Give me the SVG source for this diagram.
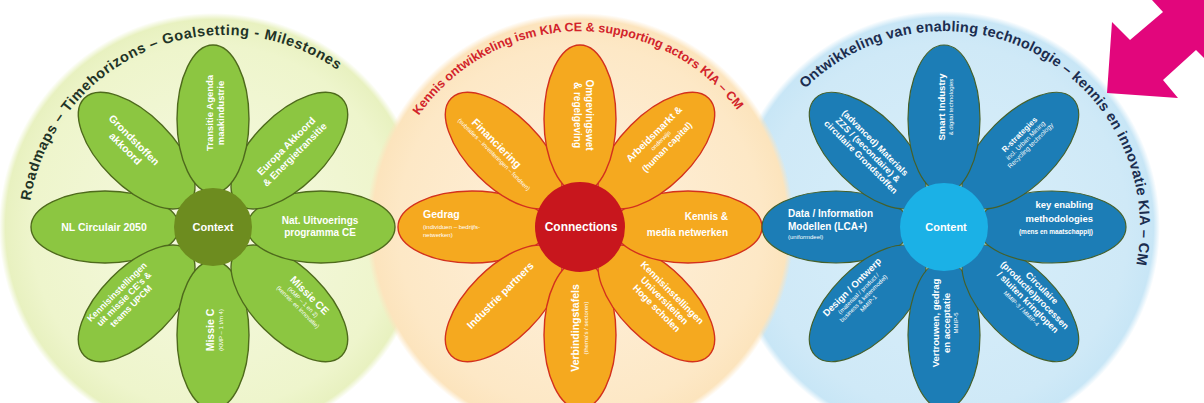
<svg xmlns="http://www.w3.org/2000/svg" xmlns:xlink="http://www.w3.org/1999/xlink" width="1204" height="403" viewBox="0 0 1204 403">
<style>
.t{font-family:"Liberation Sans",Arial,sans-serif;font-weight:bold;}
.pt{font-family:"Liberation Sans",Arial,sans-serif;font-weight:bold;fill:#ffffff;text-anchor:middle;}
.s{font-size:6px;font-weight:normal;}
.pg{fill:#8cc641;stroke:#4e6a1c;stroke-width:1.4;}
.po{fill:#f5a91f;stroke:#d3311d;stroke-width:1.4;}
.pb{fill:#1c7db6;stroke:#45602a;stroke-width:1.2;}
.ctr{font-family:"Liberation Sans",Arial,sans-serif;font-weight:bold;fill:#ffffff;text-anchor:middle;}
</style>
<defs>
<ellipse id="petal" cx="108" cy="0" rx="74" ry="36"/>
<radialGradient id="gL" cx="0.5" cy="0.5" r="0.5">
<stop offset="0" stop-color="#f6f9e2"/><stop offset="0.85" stop-color="#eef5cc"/><stop offset="0.97" stop-color="#e8f1c0"/><stop offset="1" stop-color="#e8f1c0" stop-opacity="0"/>
</radialGradient>
<radialGradient id="gM" cx="0.5" cy="0.5" r="0.5">
<stop offset="0" stop-color="#fef1de"/><stop offset="0.85" stop-color="#fde8c6"/><stop offset="0.97" stop-color="#fce4bd"/><stop offset="1" stop-color="#fce4bd" stop-opacity="0"/>
</radialGradient>
<radialGradient id="gR" cx="0.5" cy="0.5" r="0.5">
<stop offset="0" stop-color="#d9effa"/><stop offset="0.85" stop-color="#cfe9f7"/><stop offset="0.97" stop-color="#c8e6f6"/><stop offset="1" stop-color="#c8e6f6" stop-opacity="0"/>
</radialGradient>
<path id="arcL" d="M37.6,292.9 A197,197 0 0 1 398.9,139.5"/>
<path id="arcM" d="M384.5,213.3 A196,196 0 0 1 774.9,206.5"/>
<path id="arcR" d="M774.3,129 A196,196 0 0 1 1120.2,312.9"/>
</defs>
<rect width="1204" height="403" fill="#ffffff"/>
<g id="backgrounds">
<circle cx="213" cy="227" r="214" fill="url(#gL)"/>
<circle cx="944" cy="227" r="216" fill="url(#gR)"/>
<circle cx="580" cy="227" r="214" fill="url(#gM)"/>
</g>
<g id="titles">
<text class="t" font-size="14.5" letter-spacing="0.6" fill="#1f3326"><textPath xlink:href="#arcL" href="#arcL" startOffset="50%" text-anchor="middle">Roadmaps – Timehorizons – Goalsetting - Milestones</textPath></text>
<text class="t" font-size="12.5" fill="#d2232a"><textPath xlink:href="#arcM" href="#arcM" startOffset="50%" text-anchor="middle">Kennis ontwikkeling ism KIA CE &amp; supporting actors KIA – CM</textPath></text>
<text class="t" font-size="14.5" letter-spacing="0.2" fill="#1b2d4f"><textPath xlink:href="#arcR" href="#arcR" startOffset="50%" text-anchor="middle">Ontwikkeling van enabling technologie – kennis en innovatie KIA – CM</textPath></text>
</g>
<g id="connectors"></g>
<g id="flower-context">
<g transform="translate(213,227)">
<use id="pL180" class="pg" href="#petal" xlink:href="#petal" transform="rotate(180)"/>
<use id="pL135" class="pg" href="#petal" xlink:href="#petal" transform="rotate(135)"/>
<use id="pL90" class="pg" href="#petal" xlink:href="#petal" transform="rotate(90)"/>
<use id="pL45" class="pg" href="#petal" xlink:href="#petal" transform="rotate(45)"/>
<use id="pL0" class="pg" href="#petal" xlink:href="#petal" transform="rotate(0)"/>
<use id="pL315" class="pg" href="#petal" xlink:href="#petal" transform="rotate(315)"/>
<use id="pL225" class="pg" href="#petal" xlink:href="#petal" transform="rotate(225)"/>
<use id="pL270" class="pg" href="#petal" xlink:href="#petal" transform="rotate(270)"/>
<circle r="39" fill="#6d8c1f"/>
</g>
<text class="pt" font-size="10.5" transform="translate(130,144) rotate(45)"><tspan x="0" y="-2">Grondstoffen</tspan><tspan x="0" y="10">akkoord</tspan></text>
<text class="pt" font-size="9.5" transform="translate(215,113) rotate(-90)"><tspan x="0" y="-2">Transitie Agenda</tspan><tspan x="0" y="9">maakindustrie</tspan></text>
<text class="pt" font-size="10" transform="translate(290,150) rotate(-45)"><tspan x="0" y="-2">Europa Akkoord</tspan><tspan x="0" y="10">&amp; Energietransitie</tspan></text>
<text class="pt" font-size="10" transform="translate(320,226)"><tspan x="0" y="-2">Nat. Uitvoerings</tspan><tspan x="0" y="10">programma CE</tspan></text>
<text class="pt" font-size="10.5" transform="translate(305,300) rotate(45)"><tspan x="0" y="-3">Missie CE</tspan><tspan class="s" x="0" y="5">(KMP – 1 en 2)</tspan><tspan class="s" x="0" y="12">(kennis- en innovatie)</tspan></text>
<text class="pt" font-size="10.5" transform="translate(214,330) rotate(-90)"><tspan x="0" y="0">Missie C</tspan><tspan class="s" x="0" y="9">(KMP – 1 t/m 4)</tspan></text>
<text class="pt" font-size="9" transform="translate(124,299) rotate(-45)"><tspan x="0" y="-7">Kennisinstellingen</tspan><tspan x="0" y="3">uit missie CE's &amp;</tspan><tspan x="0" y="13">teams UPCM</tspan></text>
<text class="pt" font-size="10.5" transform="translate(104,231)">NL Circulair 2050</text>
<text class="ctr" font-size="11" x="213" y="231">Context</text>
</g>
<g id="flower-connections">
<g transform="translate(580,227)">
<use id="pM180" class="po" href="#petal" xlink:href="#petal" transform="rotate(180)"/>
<use id="pM135" class="po" href="#petal" xlink:href="#petal" transform="rotate(135)"/>
<use id="pM90" class="po" href="#petal" xlink:href="#petal" transform="rotate(90)"/>
<use id="pM45" class="po" href="#petal" xlink:href="#petal" transform="rotate(45)"/>
<use id="pM0" class="po" href="#petal" xlink:href="#petal" transform="rotate(0)"/>
<use id="pM315" class="po" href="#petal" xlink:href="#petal" transform="rotate(315)"/>
<use id="pM225" class="po" href="#petal" xlink:href="#petal" transform="rotate(225)"/>
<use id="pM270" class="po" href="#petal" xlink:href="#petal" transform="rotate(270)"/>
<circle r="45" fill="#c8161d"/>
</g>
<text class="pt" font-size="11" transform="translate(494,146) rotate(45)"><tspan x="0" y="0">Financiering</tspan><tspan class="s" x="6" y="8">(subsidies – investeringen – fondsen)</tspan></text>
<text class="pt" font-size="10" transform="translate(584,115) rotate(90)"><tspan x="0" y="-2">Omgevingswet</tspan><tspan x="0" y="10">&amp; regelgeving</tspan></text>
<text class="pt" font-size="10" transform="translate(660,140) rotate(-45)"><tspan x="0" y="-5">Arbeidsmarkt &amp;</tspan><tspan class="s" x="0" y="3">onderwijs</tspan><tspan x="0" y="13" font-size="9">(human capital)</tspan></text>
<text class="pt" font-size="10" style="text-anchor:end"><tspan x="728" y="220">Kennis &amp;</tspan><tspan x="728" y="236">media netwerken</tspan></text>
<text class="pt" font-size="9.5" transform="translate(665,300) rotate(45)"><tspan x="0" y="-7">Kennisinstellingen</tspan><tspan x="0" y="4">Universiteiten</tspan><tspan x="0" y="15">Hoge scholen</tspan></text>
<text class="pt" font-size="10.5" transform="translate(580,328) rotate(-90)"><tspan x="0" y="-1">Verbindingstafels</tspan><tspan class="s" x="0" y="8">(thema's / sectoren)</tspan></text>
<text class="pt" font-size="10.5" transform="translate(500,295) rotate(-45)"><tspan x="0" y="4">Industrie partners</tspan></text>
<text class="pt" font-size="10.5" style="text-anchor:start"><tspan x="423" y="218">Gedrag</tspan><tspan class="s" x="423" y="229">(individuen – bedrijfs-</tspan><tspan class="s" x="423" y="237">netwerken)</tspan></text>
<text class="ctr" font-size="12" x="581" y="231">Connections</text>
</g>
<g id="flower-content">
<g transform="translate(944,227)">
<use id="pR180" class="pb" href="#petal" xlink:href="#petal" transform="rotate(180)"/>
<use id="pR135" class="pb" href="#petal" xlink:href="#petal" transform="rotate(135)"/>
<use id="pR90" class="pb" href="#petal" xlink:href="#petal" transform="rotate(90)"/>
<use id="pR45" class="pb" href="#petal" xlink:href="#petal" transform="rotate(45)"/>
<use id="pR0" class="pb" href="#petal" xlink:href="#petal" transform="rotate(0)"/>
<use id="pR315" class="pb" href="#petal" xlink:href="#petal" transform="rotate(315)"/>
<use id="pR225" class="pb" href="#petal" xlink:href="#petal" transform="rotate(225)"/>
<use id="pR270" class="pb" href="#petal" xlink:href="#petal" transform="rotate(270)"/>
<circle r="44" fill="#1bb1e6"/>
</g>
<text class="pt" font-size="9" transform="translate(868,150) rotate(45)"><tspan x="0" y="-7">(advanced) Materials</tspan><tspan x="0" y="3">ZZS / (secondaire) &amp;</tspan><tspan x="0" y="13">circulaire Grondstoffen</tspan></text>
<text class="pt" font-size="9.5" transform="translate(945,107) rotate(-90)"><tspan x="0" y="0">Smart Industry</tspan><tspan class="s" x="0" y="8" font-size="5.5">&amp; digital technologies</tspan></text>
<text class="pt" font-size="8" transform="translate(1025,140) rotate(-45)"><tspan x="0" y="-5">R-strategies</tspan><tspan x="0" y="3" font-size="6.5" font-weight="normal">incl. Urban Mining</tspan><tspan x="0" y="10" font-size="6.5" font-weight="normal">Recycling technology</tspan></text>
<text class="pt" font-size="9.5" style="text-anchor:end"><tspan x="1093" y="208">key enabling</tspan><tspan x="1093" y="222">methodologies</tspan><tspan x="1093" y="234" font-size="6.5">(mens en maatschappij)</tspan></text>
<text class="pt" font-size="9" transform="translate(1032,298) rotate(45)"><tspan x="0" y="-11">Circulaire</tspan><tspan x="0" y="-1">(productie)processen</tspan><tspan x="0" y="9">/ sluiten kringlopen</tspan><tspan class="s" x="0" y="17">MMIP-3 / MMIP-4</tspan></text>
<text class="pt" font-size="9.5" transform="translate(945,323) rotate(-90)"><tspan x="0" y="-6">Vertrouwen, gedrag</tspan><tspan x="0" y="5">en acceptatie</tspan><tspan class="s" x="0" y="13">MMIP-5</tspan></text>
<text class="pt" font-size="9.5" transform="translate(860,295) rotate(-45)"><tspan x="0" y="-8">Design / Ontwerp</tspan><tspan class="s" x="0" y="0">(materiaal / product /</tspan><tspan class="s" x="0" y="7">business &amp; ketenmodel)</tspan><tspan class="s" x="0" y="14">MMIP-1</tspan></text>
<text class="pt" font-size="10" style="text-anchor:start"><tspan x="788" y="217">Data / Information</tspan><tspan x="788" y="230">Modellen (LCA+)</tspan><tspan class="s" x="788" y="239">(uniformdeel)</tspan></text>
<text class="ctr" font-size="11" x="946" y="231">Content</text>
</g>
<g id="arrow">
<polygon points="1107,93 1112,22 1130,40 1163,12 1152,0 1204,0 1204,58 1196,50 1163,80 1178,98" fill="#e2067c"/>
</g>
</svg>
